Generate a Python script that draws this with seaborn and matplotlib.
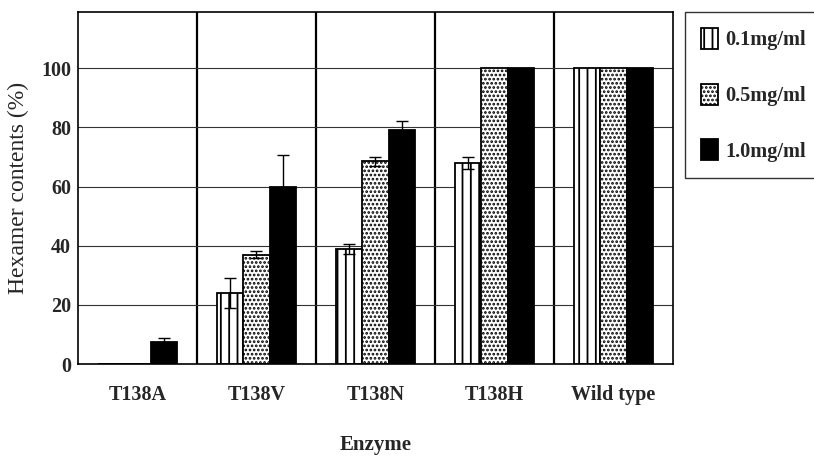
import numpy as np
import pandas as pd
import matplotlib
matplotlib.use("Agg")
import matplotlib.pyplot as plt
import seaborn as sns

# ---- data ----
enzymes = ["T138A", "T138V", "T138N", "T138H", "Wild type"]
concentrations = ["0.1mg/ml", "0.5mg/ml", "1.0mg/ml"]
hex_01 = [0, 24, 39, 68, 100]
hex_05 = [0, 37, 68.5, 100, 100]
hex_10 = [7.5, 60, 79, 100, 100]
err_01 = [0, 5, 1.7, 2, 0]
err_05 = [0, 1.3, 1.6, 0, 0]
err_10 = [1.4, 10.5, 3, 0, 0]
yticks = [0, 20, 40, 60, 80, 100]

values = [hex_01, hex_05, hex_10]
errors = [err_01, err_05, err_10]

df = pd.DataFrame({
    "Enzyme": enzymes * 3,
    "Conc": [c for c in concentrations for _ in enzymes],
    "Hexamer": hex_01 + hex_05 + hex_10,
})

sns.set_style("white")
plt.rcParams["font.family"] = ["Liberation Serif", "DejaVu Serif"]
plt.rcParams["hatch.linewidth"] = 1.3

fig = plt.figure(figsize=(8.14, 4.62), dpi=100)
ax = fig.add_axes([0.0958, 0.212, 0.731, 0.762])

sns.barplot(data=df, x="Enzyme", y="Hexamer", hue="Conc", order=enzymes,
            hue_order=concentrations, errorbar=None, width=0.66, ax=ax,
            legend=False)

styles = [
    dict(facecolor="white", hatch="||"),
    dict(facecolor="white", hatch="...."),
    dict(facecolor="black", hatch=None),
]
for cont, st, vals, errs in zip(ax.containers, styles, values, errors):
    xs, ys, es = [], [], []
    for p, v, e in zip(cont.patches, vals, errs):
        p.set_facecolor(st["facecolor"])
        p.set_edgecolor("black")
        p.set_linewidth(1.3)
        if st["hatch"]:
            p.set_hatch(st["hatch"])
        if e > 0:
            xs.append(p.get_x() + p.get_width() / 2)
            ys.append(v)
            es.append(e)
    if xs:
        ax.errorbar(xs, ys, yerr=es, fmt="none", ecolor="black",
                    elinewidth=1.0, capsize=4, capthick=1.0, zorder=5)

ax.set_ylim(0, 119)
ax.set_xlim(-0.5, len(enzymes) - 0.5)
ax.set_yticks(yticks)
ax.set_xticks(np.arange(len(enzymes) - 1) + 0.5, minor=True)
ax.set_axisbelow(True)
ax.grid(axis="y", which="major", color="#333333", linewidth=0.8)
ax.grid(axis="x", which="minor", color="black", linewidth=1.6)
ax.grid(axis="x", which="major", visible=False)
ax.tick_params(axis="both", which="both", length=0)
ax.tick_params(axis="x", pad=15)
ax.tick_params(axis="y", pad=5)
for lab in ax.get_xticklabels() + ax.get_yticklabels():
    lab.set_fontweight("bold")
    lab.set_fontsize(14.5)

for s in ax.spines.values():
    s.set_visible(True)
    s.set_color("black")
    s.set_linewidth(1.2)

ax.set_ylabel("Hexamer contents (%)", fontsize=17, labelpad=9)
ax.set_xlabel("Enzyme", fontsize=15, fontweight="bold", labelpad=22)

handles = [matplotlib.patches.Patch(facecolor=st["facecolor"], edgecolor="black",
                                    hatch=st["hatch"], linewidth=1.3)
           for st in styles]
leg = fig.legend(handles, concentrations, loc="upper left",
                 bbox_to_anchor=(0.842, 0.5, 0.2, 0.474),
                 bbox_transform=fig.transFigure, mode="expand",
                 frameon=True, fancybox=False, edgecolor="black",
                 prop=dict(family=["Liberation Serif"], weight="bold", size=14.7),
                 handlelength=0.83, handleheight=1.23, handletextpad=0.34,
                 labelspacing=1.62, borderpad=0.78, borderaxespad=0)
leg.get_frame().set_linewidth(1.0)

fig.savefig("out.png", dpi=100)
